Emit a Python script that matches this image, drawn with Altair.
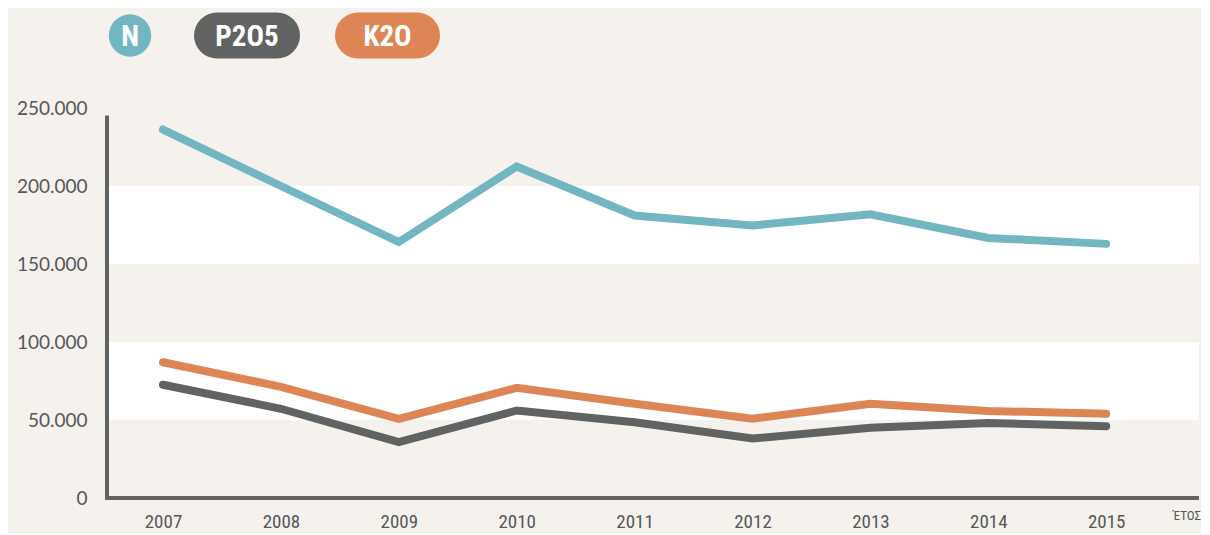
import altair as alt
import pandas as pd

years = [2007, 2008, 2009, 2010, 2011, 2012, 2013, 2014, 2015]
n_vals = [236200, 200000, 164100, 212500, 181100, 174700, 181900, 166700, 162900]
p_vals = [72600, 57200, 35800, 56100, 48500, 38100, 45000, 48100, 46000]
k_vals = [87000, 71300, 50800, 70600, 60400, 50800, 60400, 55800, 54000]

series_names = ["N", "P2O5", "K2O"]
series_colors = ["#72b6c2", "#616362", "#dd8554"]
y_ticks = [0, 50000, 100000, 150000, 200000, 250000]
band_lo = [150000, 50000]
band_hi = [200000, 100000]
x_title = "ΈΤΟΣ"

rows = []
for name, vals in zip(series_names, [n_vals, p_vals, k_vals]):
    for yr, v in zip(years, vals):
        rows.append({"year": yr, "value": v, "series": name})
df = pd.DataFrame(rows)
bands = pd.DataFrame({"lo": band_lo, "hi": band_hi})

W, H = 1092, 390
BG = "#f5f2ee"
AXC = "#616362"
TXT = "#575757"
COND = "Liberation Sans Narrow, Roboto Condensed, Arial Narrow, sans-serif"

xscale = alt.Scale(domain=[2006.525, 2015.787], nice=False, zero=False)
yscale = alt.Scale(domain=[0, 250000], nice=False)

band_layer = alt.Chart(bands).mark_rect(color="white").encode(
    x=alt.value(0), x2=alt.value(W),
    y=alt.Y("lo:Q", scale=yscale), y2="hi:Q",
)

lines = alt.Chart(df).mark_line(strokeWidth=8, strokeCap="round", strokeJoin="miter").encode(
    x=alt.X("year:Q", scale=xscale,
            axis=alt.Axis(values=years, format="d", title=None, domain=False, ticks=False,
                          grid=False, labelPadding=14, labelFontSize=19,
                          labelFont=COND, labelColor=TXT)),
    y=alt.Y("value:Q", scale=yscale,
            axis=alt.Axis(values=y_ticks, title=None, domain=False, ticks=False, grid=False,
                          labelPadding=20, labelFontSize=19, labelFont="Lato, Open Sans, sans-serif",
                          labelColor=TXT,
                          labelExpr="replace(format(datum.value, ','), ',', '.')")),
    color=alt.Color("series:N", scale=alt.Scale(domain=series_names, range=series_colors), legend=None),
    detail="series:N",
)

vaxis = alt.Chart(pd.DataFrame({"a": [0]})).mark_rule(color=AXC, strokeWidth=4).encode(
    x=alt.value(0), y=alt.value(7.5), y2=alt.value(H + 1.5)
)
haxis = alt.Chart(pd.DataFrame({"a": [0]})).mark_rule(color=AXC, strokeWidth=4).encode(
    x=alt.value(-2), x2=alt.value(W), y=alt.value(H)
)

xt = alt.Chart(pd.DataFrame({"t": [x_title]})).mark_text(
    align="right", baseline="middle", fontSize=13, color=TXT, font=COND
).encode(x=alt.value(W + 2), y=alt.value(408), text="t:N")

# legend pills
leg_y = -72.5
pill_specs = [(23, 23), (110, 170), (251, 310)]
legend_layers = []
for name, col, (a, b) in zip(series_names, series_colors, pill_specs):
    d = pd.DataFrame({"s": [name]})
    if a == b:
        shape = alt.Chart(d).mark_circle(size=1800, color=col, opacity=1).encode(
            x=alt.value(a), y=alt.value(leg_y))
    else:
        shape = alt.Chart(d).mark_rule(strokeWidth=46, strokeCap="round", color=col).encode(
            x=alt.value(a), x2=alt.value(b), y=alt.value(leg_y))
    label = alt.Chart(d).mark_text(
        fontSize=29, fontWeight="bold", color="white", align="center", baseline="middle",
        font=COND
    ).encode(x=alt.value((a + b) / 2), y=alt.value(leg_y + 1), text="s:N")
    legend_layers += [shape, label]

chart = alt.layer(band_layer, vaxis, haxis, lines, xt, *legend_layers).properties(
    width=W, height=H,
    autosize=alt.AutoSizeParams(type="none"),
    padding={"left": 99, "top": 100, "right": 2, "bottom": 36},
    background=BG,
).configure_view(stroke=None)

chart.save("out.html", embed_options={"renderer": "svg", "actions": False})
